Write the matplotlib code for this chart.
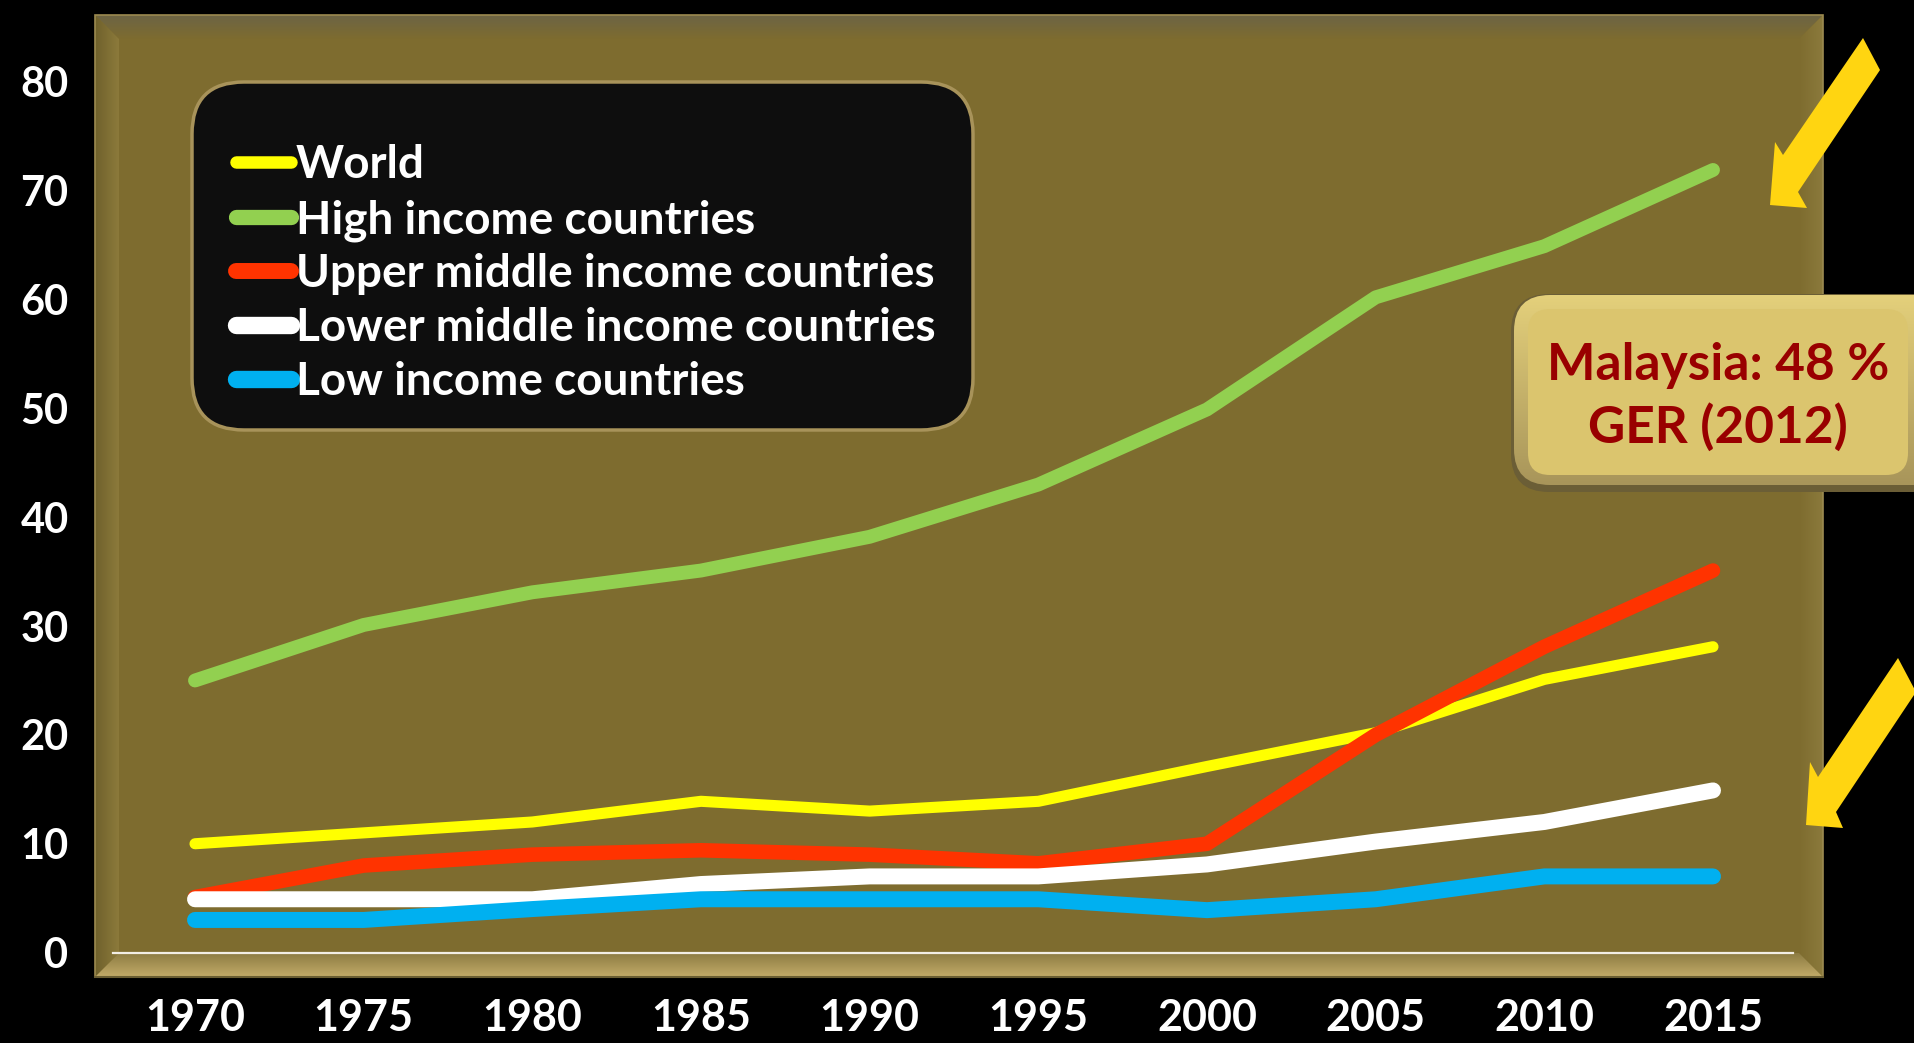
import matplotlib
matplotlib.use("Agg")
import matplotlib.pyplot as plt
import matplotlib.colors as mcolors
from matplotlib.patches import Polygon, FancyBboxPatch, Rectangle
import numpy as np

plt.rcParams['font.family'] = ['Lato', 'DejaVu Sans']

# ---------------- data ----------------
years = [1970, 1975, 1980, 1985, 1990, 1995, 2000, 2005, 2010, 2015]
world = [10.0, 11.0, 12.0, 13.9, 13.0, 13.9, 17.1, 20.2, 25.1, 28.1]
high_income = [25.0, 30.1, 33.1, 35.1, 38.2, 43.0, 49.9, 60.2, 64.9, 71.9]
upper_middle = [5.1, 8.0, 9.0, 9.4, 9.0, 8.2, 10.0, 20.0, 28.1, 35.1]
lower_middle = [4.9, 4.9, 4.9, 6.3, 7.0, 7.0, 8.1, 10.2, 12.0, 14.9]
low_income = [3.0, 3.0, 4.0, 4.9, 4.9, 4.9, 3.9, 4.9, 7.0, 7.0]

series_names = ["World", "High income countries", "Upper middle income countries",
                "Lower middle income countries", "Low income countries"]
series_values = [world, high_income, upper_middle, lower_middle, low_income]
series_colors = ["#FFFF00", "#92D050", "#FF3300", "#FFFFFF", "#00B0F0"]
series_widths = [8.0, 10.0, 10.5, 11.5, 11.5]

y_ticks = [0, 10, 20, 30, 40, 50, 60, 70, 80]
y_tick_labels = ["0", "10", "20", "30", "40", "50", "60", "70", "80"]
x_tick_labels = [str(y) for y in years]

callout_lines = ["Malaysia: 48 %", "GER (2012)"]

W, H = 1915, 1043
fig = plt.figure(figsize=(W / 100, H / 100), dpi=100, facecolor="black")

# ---------------- background panel (pixel coords) ----------------
bg = fig.add_axes([0, 0, 1, 1], zorder=0)
bg.set_xlim(0, W)
bg.set_ylim(H, 0)
bg.axis("off")
bg.set_facecolor("black")


def grad(ax, clip_patch, extent_px, c1, c2, direction="v", zorder=1):
    ax.add_patch(clip_patch)
    x0, x1, y0, y1 = extent_px
    a = np.array(mcolors.to_rgb(c1))
    b = np.array(mcolors.to_rgb(c2))
    t = np.linspace(0, 1, 256)
    cols = a[None, :] * (1 - t)[:, None] + b[None, :] * t[:, None]
    arr = cols[:, None, :] if direction == "v" else cols[None, :, :]
    im = ax.imshow(arr, extent=(x0, x1, y1, y0), origin="upper", aspect="auto",
                   interpolation="bilinear", zorder=zorder)
    im.set_clip_path(clip_patch)
    return im


PL, PR, PT, PB = 95, 1823, 15, 977
BV = 24
bg.add_patch(Rectangle((PL, PT), PR - PL, PB - PT, facecolor="#7E6C2F",
                       edgecolor="none", zorder=1))
# top bevel
p = Polygon([(PL, PT), (PR, PT), (PR - BV, PT + BV), (PL + BV, PT + BV)],
            closed=True, fc="none", ec="none")
grad(bg, p, (PL, PR, PT, PT + BV), "#6C6445", "#7E6C2F", "v", zorder=2)
# left bevel
p = Polygon([(PL, PT), (PL + BV, PT + BV), (PL + BV, PB - BV), (PL, PB)],
            closed=True, fc="none", ec="none")
grad(bg, p, (PL, PL + BV, PT, PB), "#6F612C", "#8C7A3B", "h", zorder=2)
# right bevel
p = Polygon([(PR - BV, PT + BV), (PR, PT), (PR, PB), (PR - BV, PB - BV)],
            closed=True, fc="none", ec="none")
grad(bg, p, (PR - BV, PR, PT, PB), "#7E6C2F", "#8B7A3C", "h", zorder=2)
# bottom bevel
p = Polygon([(PL, PB), (PL + BV, PB - BV), (PR - BV, PB - BV), (PR, PB)],
            closed=True, fc="none", ec="none")
grad(bg, p, (PL, PR, PB - BV, PB), "#8C7B42", "#C3AC69", "v", zorder=2)
bg.add_patch(Rectangle((PL, PT), PR - PL, PB - PT, facecolor="none",
                       edgecolor="#9C8A50", lw=1.2, zorder=3))
bg.plot([PL, PR], [PB, PB], color="#6A5E33", lw=1.5, zorder=3)

# ---------------- data axes ----------------
px_per_year = (1713 - 195) / 45.0
px_per_unit = (952.6 - 81.8) / 80.0
xlim = (1970 - (195 - PL) / px_per_year, 2015 + (PR - 1713) / px_per_year)
ylim = (-(PB - 952.6) / px_per_unit, 80 + (81.8 - PT) / px_per_unit)

ax = fig.add_axes([PL / W, (H - PB) / H, (PR - PL) / W, (PB - PT) / H], zorder=1)
ax.set_facecolor("none")
ax.set_xlim(*xlim)
ax.set_ylim(*ylim)
for s in ax.spines.values():
    s.set_visible(False)

ax.axhline(0, xmin=(113 - PL) / (PR - PL), xmax=(1793 - PL) / (PR - PL),
           color="#F2EEE4", lw=1.6, zorder=1)

for name, vals, col, lw in zip(series_names, series_values, series_colors, series_widths):
    ax.plot(years, vals, color=col, lw=lw, solid_capstyle="round",
            solid_joinstyle="round", clip_on=False, zorder=2)

ax.set_yticks(y_ticks)
ax.set_yticklabels(y_tick_labels, fontsize=30, fontweight="bold", color="white")
ax.set_xticks(years)
ax.set_xticklabels(x_tick_labels, fontsize=31, fontweight="bold", color="white")
ax.tick_params(axis="y", length=0, pad=19)
ax.tick_params(axis="x", length=0, pad=15)

# ---------------- overlay: legend, callout, arrows ----------------
ov = fig.add_axes([0, 0, 1, 1], zorder=2)
ov.set_facecolor("none")
ov.set_xlim(0, W)
ov.set_ylim(H, 0)
ov.axis("off")

ov.add_patch(FancyBboxPatch((192, 82), 781, 348,
                            boxstyle="round,pad=0,rounding_size=52",
                            fc="#0E0E0E", ec="#A8935A", lw=2.5, zorder=1))
row_centers = [162, 217, 271, 325, 379]
for name, col, lw, yc in zip(series_names, series_colors, series_widths, row_centers):
    ov.plot([236, 291], [yc, yc], color=col, lw=lw + 1, solid_capstyle="round", zorder=2)
    ov.text(296, yc + 16, name, ha="left", va="baseline", fontsize=33,
            fontweight="bold", color="white", zorder=3)

# callout box
ov.add_patch(FancyBboxPatch((1511, 294), 440, 198,
                            boxstyle="round,pad=0,rounding_size=38",
                            fc="#6B5E36", ec="none", zorder=1))
frame = FancyBboxPatch((1514, 295), 440, 190,
                       boxstyle="round,pad=0,rounding_size=36",
                       fc="none", ec="none", zorder=2)
grad(ov, frame, (1514, 1954, 295, 485), "#E4D07B", "#A8955A", "v", zorder=2)
ov.add_patch(FancyBboxPatch((1528, 309), 380, 166,
                            boxstyle="round,pad=0,rounding_size=22",
                            fc="#DBC56E", ec="none", zorder=3))
ov.text(1718, 380, callout_lines[0], ha="center", va="baseline", fontsize=37,
        fontweight="bold", color="#990000", zorder=4)
ov.text(1718, 443, callout_lines[1], ha="center", va="baseline", fontsize=37,
        fontweight="bold", color="#990000", zorder=4)

# yellow arrows
arrow_color = "#FFD511"
arrow1 = [(1863, 38), (1880, 70), (1798, 192), (1807, 208), (1770, 205),
          (1775, 142), (1783, 155)]
arrow2 = [(1898, 658), (1916, 692), (1836, 812), (1843, 828), (1806, 825),
          (1810, 762), (1818, 777)]
for pts in (arrow1, arrow2):
    ov.add_patch(Polygon(pts, closed=True, fc=arrow_color, ec="none", zorder=5))

fig.savefig("out.png", dpi=100, facecolor="black")
